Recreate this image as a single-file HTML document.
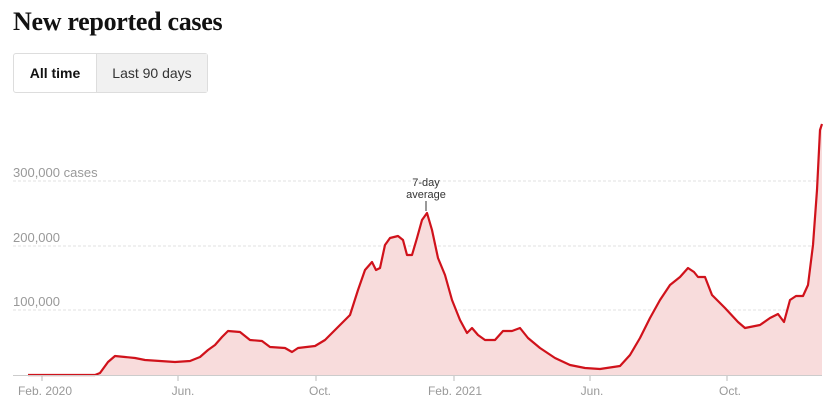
<!DOCTYPE html>
<html><head><meta charset="utf-8"><style>
body{margin:0;background:#fff;width:838px;height:417px;overflow:hidden;font-family:"Liberation Sans",sans-serif}
h1{position:absolute;left:13px;top:7px;margin:0;font-family:"Liberation Serif",serif;font-weight:bold;font-size:26px;color:#121212;letter-spacing:-0.3px}
.btns{position:absolute;left:13px;top:53px;height:38px;border:1px solid #ddd;border-radius:3px;display:flex;font-size:14px}
.b1{width:82px;display:flex;align-items:center;justify-content:center;font-weight:bold;color:#121212;border-right:1px solid #ddd}
.b2{width:110px;display:flex;align-items:center;justify-content:center;color:#333;background:#f1f1f1}
svg{position:absolute;left:0;top:0}
</style></head><body>
<h1>New reported cases</h1>
<div class="btns"><div class="b1">All time</div><div class="b2">Last 90 days</div></div>
<svg width="838" height="417">
<g stroke="#e2e2e2" stroke-dasharray="3,2" stroke-width="1">
<line x1="13" y1="181" x2="822" y2="181"/><line x1="13" y1="246" x2="822" y2="246"/><line x1="13" y1="310" x2="822" y2="310"/>
</g>
<g font-size="13" fill="#999">
<text x="13" y="177">300,000 cases</text><text x="13" y="242">200,000</text><text x="13" y="306">100,000</text>
</g>
<path d="M28,375 L95,375 L100,373 L108,362 L115,356 L125,357 L135,358 L145,360 L160,361 L175,362 L190,361 L200,357 L208,350 L215,345 L222,337 L228,331 L240,332 L250,340 L262,341 L270,347 L285,348 L292,352 L298,348 L315,346 L325,340 L340,325 L350,315 L358,290 L365,270 L372,262 L376,270 L380,268 L385,245 L390,238 L398,236 L403,240 L407,255 L412,255 L417,238 L422,220 L427,213 L432,230 L438,258 L445,275 L452,300 L460,320 L467,333 L472,328 L478,335 L485,340 L495,340 L503,331 L512,331 L520,328 L528,338 L540,348 L555,358 L570,365 L585,368 L600,369 L620,366 L630,355 L640,338 L650,318 L660,300 L670,285 L680,277 L688,268 L694,272 L698,277 L705,277 L712,295 L725,308 L738,322 L745,328 L750,327 L760,325 L770,318 L778,314 L784,322 L790,300 L796,296 L803,296 L808,285 L813,245 L817,190 L820,130 L822,124 L822,375 Z" fill="#f8dcdc" stroke="none"/>
<path d="M28,375 L95,375 L100,373 L108,362 L115,356 L125,357 L135,358 L145,360 L160,361 L175,362 L190,361 L200,357 L208,350 L215,345 L222,337 L228,331 L240,332 L250,340 L262,341 L270,347 L285,348 L292,352 L298,348 L315,346 L325,340 L340,325 L350,315 L358,290 L365,270 L372,262 L376,270 L380,268 L385,245 L390,238 L398,236 L403,240 L407,255 L412,255 L417,238 L422,220 L427,213 L432,230 L438,258 L445,275 L452,300 L460,320 L467,333 L472,328 L478,335 L485,340 L495,340 L503,331 L512,331 L520,328 L528,338 L540,348 L555,358 L570,365 L585,368 L600,369 L620,366 L630,355 L640,338 L650,318 L660,300 L670,285 L680,277 L688,268 L694,272 L698,277 L705,277 L712,295 L725,308 L738,322 L745,328 L750,327 L760,325 L770,318 L778,314 L784,322 L790,300 L796,296 L803,296 L808,285 L813,245 L817,190 L820,130 L822,124" fill="none" stroke="#d0121b" stroke-width="2.2" stroke-linejoin="round"/>
<line x1="13" y1="375.5" x2="822" y2="375.5" stroke="#ccc"/>
<g stroke="#bbb"><line x1="42" y1="376" x2="42" y2="381"/><line x1="178" y1="376" x2="178" y2="381"/><line x1="316" y1="376" x2="316" y2="381"/><line x1="454" y1="376" x2="454" y2="381"/><line x1="590" y1="376" x2="590" y2="381"/><line x1="727" y1="376" x2="727" y2="381"/></g>
<g font-size="12" fill="#999" text-anchor="middle">
<text x="45" y="395">Feb. 2020</text><text x="183" y="395">Jun.</text><text x="320" y="395">Oct.</text><text x="455" y="395">Feb. 2021</text><text x="592" y="395">Jun.</text><text x="730" y="395">Oct.</text>
</g>
<g font-size="11" fill="#333" text-anchor="middle"><text x="426" y="186">7-day</text><text x="426" y="198">average</text></g>
<line x1="426" y1="201" x2="426" y2="211" stroke="#333"/>
</svg>
</body></html>
